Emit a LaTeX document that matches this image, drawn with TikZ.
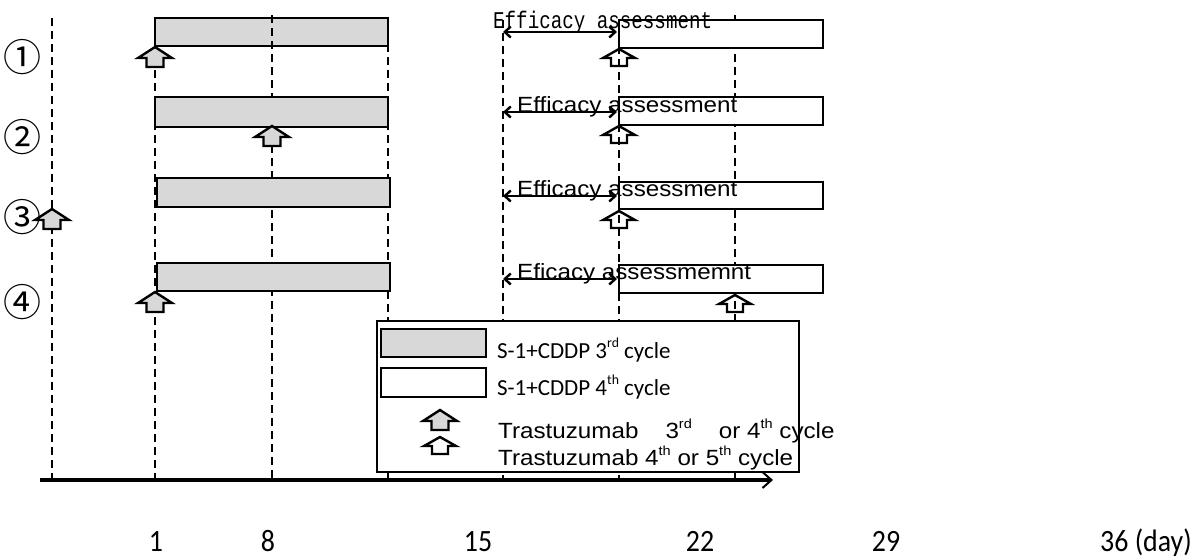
\documentclass[tikz,border=0pt]{standalone}
\usepackage{fontspec}
\setmainfont{Liberation Sans}
\newfontfamily\arialf[FakeStretch=1.1]{Liberation Sans}
\newfontfamily\calibf{Carlito}
\newfontfamily\dayf[FakeStretch=0.9]{Carlito}
\newfontfamily\monof[FakeStretch=0.8]{Liberation Mono}
\newfontfamily\circf{Noto Sans CJK JP}
\usetikzlibrary{arrows.meta}
\definecolor{barfill}{RGB}{216,216,216}
\newcommand\supx[1]{\raisebox{0.45em}{\scalebox{0.6}{#1}}}
\tikzset{
  dline/.style={dash pattern=on 8pt off 5pt, line width=2.6pt},
  graybar/.style={draw, line width=2.8pt, fill=barfill},
  whitebar/.style={draw, line width=2.8pt, fill=white},
  effarrow/.style={line width=2.4pt, {Straight Barb[length=6pt,width=11pt]}-{Straight Barb[length=6pt,width=11pt]}},
  efftext/.style={anchor=base west, inner sep=0pt, font=\arialf\fontsize{22}{24}\selectfont},
  efftextone/.style={anchor=base west, inner sep=0pt, font=\monof\fontsize{24}{26}\selectfont},
  legtext/.style={anchor=base west, inner sep=0pt, font=\calibf\fontsize{23}{26}\selectfont},
  trastext/.style={anchor=base west, inner sep=0pt, font=\arialf\fontsize{22}{24}\selectfont},
  daylab/.style={anchor=base, inner sep=0pt, font=\dayf\fontsize{31}{33}\selectfont},
  circnum/.style={inner sep=0pt, font=\circf\fontsize{38}{38}\selectfont},
  pics/grayup/.style={code={
    \draw[line width=2.4pt, fill=barfill, line join=miter]
      (0,0) -- (17,11) -- (8.5,11) -- (8.5,20) -- (-8.5,20) -- (-8.5,11) -- (-17,11) -- cycle;
  }},
  pics/whiteup/.style={code={
    \draw[line width=2.4pt, line join=miter]
      (0,0) -- (16,9) -- (8,9) -- (8,17) -- (-8,17) -- (-8,9) -- (-16,9) -- cycle;
  }},
  pics/whiteupfill/.style={code={
    \draw[line width=2.4pt, fill=white, line join=miter]
      (0,0) -- (16,9) -- (8,9) -- (8,17) -- (-8,17) -- (-8,9) -- (-16,9) -- cycle;
  }}
}
\begin{document}
\begin{tikzpicture}[x=1pt,y=-1pt]
\useasboundingbox (0,0) rectangle (1194,558);
% row 1 gray bar (dashed line visible through it)
\draw[graybar] (155,18) rectangle (388,46);
% dashed day lines
\draw[dline] (52,18) -- (52,480);
\draw[dline] (155,18) -- (155,480);
\draw[dline] (272,15) -- (272,480);
\draw[dline] (388,18) -- (388,480);
\draw[dline] (503,20) -- (503,480);
\draw[dline] (619,20) -- (619,480);
\draw[dline] (735,15) -- (735,480);
% gray bars (3rd cycle)
\draw[graybar] (155,97) rectangle (388,127);
\draw[graybar] (157,178) rectangle (390,207);
\draw[graybar] (157,263) rectangle (390,291);
% white bars (4th cycle)
\draw[whitebar] (619,20) rectangle (823,48);
\draw[whitebar] (619,97) rectangle (823,125);
\draw[whitebar] (619,182) rectangle (823,209);
\draw[whitebar] (619,265) rectangle (823,293);
% efficacy assessment intervals
\coordinate (e1a) at (503,32); \coordinate (e1b) at (617,32);
\coordinate (e2a) at (503,112); \coordinate (e2b) at (617,112);
\coordinate (e3a) at (503,196); \coordinate (e3b) at (617,196);
\coordinate (e4a) at (503,279); \coordinate (e4b) at (617,279);
\draw[effarrow] (e1a) -- (e1b);
\draw[effarrow] (e2a) -- (e2b);
\draw[effarrow] (e3a) -- (e3b);
\draw[effarrow] (e4a) -- (e4b);
\node[efftextone] (t1) at (493,28) {Efficacy assessment};
\node[efftext] (t2) at (517,112) {Efficacy assessment};
\node[efftext] (t3) at (517,196) {Efficacy assessment};
\node[efftext] (t4) at (517,279) {Eficacy assessmemnt};
% trastuzumab arrows
\pic (g1) at (155,47) {grayup};
\pic (g2) at (272,126) {grayup};
\pic (g3) at (52,209) {grayup};
\pic (g4) at (155,292) {grayup};
\pic (w1) at (619,49) {whiteup};
\pic (w2) at (619,126) {whiteup};
\pic (w3) at (619,211) {whiteup};
\pic (w4) at (735,295) {whiteup};
% row numbers
\node[circnum] (n1) at (22,57) {①};
\node[circnum] (n2) at (22,137) {②};
\node[circnum] (n3) at (22,217) {③};
\node[circnum] (n4) at (22,302) {④};
% legend
\draw[line width=1.5pt, fill=white] (377,321) rectangle (799,472);
\draw[graybar] (381,329) rectangle (486,357);
\draw[whitebar] (381,368) rectangle (486,397);
\node[legtext] (l1) at (497,358) {S-1+CDDP 3\supx{rd} cycle};
\node[legtext] (l2) at (497,395) {S-1+CDDP 4\supx{th} cycle};
\pic (lg) at (440,410) {grayup};
\pic (lw) at (440,437) {whiteupfill};
\node[trastext] (l3) at (498,438) {Trastuzumab\hspace{27pt}3\supx{rd}\hspace{27pt}or 4\supx{th} cycle};
\node[trastext] (l4) at (498,465) {Trastuzumab 4\supx{th} or 5\supx{th} cycle};
% time axis
\coordinate (ax0) at (40,480);
\coordinate (ax1) at (773,480);
\draw[line width=3.5pt, -{Straight Barb[length=9pt,width=16pt,line width=2pt]}] (ax0) -- (ax1);
% day labels
\node[daylab] (d1) at (156,551) {1};
\node[daylab] (d8) at (268,551) {8};
\node[daylab] (d15) at (478,551) {15};
\node[daylab] (d22) at (700,551) {22};
\node[daylab] (d29) at (886,551) {29};
\node[daylab, anchor=base east] (d36) at (1192,551) {36 (day)};
\end{tikzpicture}
\end{document}
